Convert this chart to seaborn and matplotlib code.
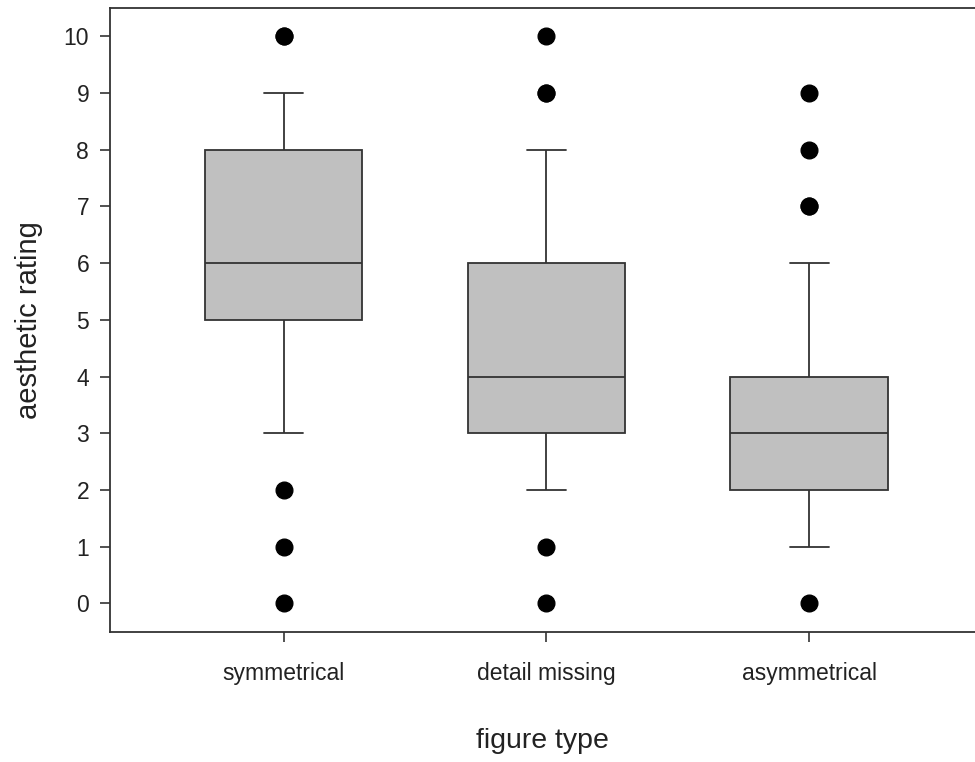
import numpy as np
import pandas as pd
import matplotlib
matplotlib.use("Agg")
import matplotlib.pyplot as plt
import seaborn as sns

# Datos: número de respuestas por puntuación (0..10) para cada tipo de figura
puntuaciones = list(range(11))
tipos = ["symmetrical", "detail missing", "asymmetrical"]
conteo_symmetrical = [1, 1, 1, 2, 2, 8, 8, 5, 6, 4, 2]
conteo_detail_missing = [1, 1, 3, 7, 9, 5, 6, 3, 2, 2, 1]
conteo_asymmetrical = [1, 4, 7, 10, 9, 2, 3, 2, 1, 1, 0]

filas = []
for tipo, conteo in zip(tipos, [conteo_symmetrical, conteo_detail_missing, conteo_asymmetrical]):
    for p, n in zip(puntuaciones, conteo):
        filas += [(tipo, p)] * n
df = pd.DataFrame(filas, columns=["figure type", "aesthetic rating"])

sns.set_style("ticks")
plt.rcParams["font.family"] = ["Liberation Sans", "DejaVu Sans"]

fig = plt.figure(figsize=(9.75, 7.62), dpi=100)
ax = fig.add_axes([0.1128, 0.171, 0.8872, 0.8185])

color_linea = "#333333"
sns.boxplot(data=df, x="figure type", y="aesthetic rating", order=tipos,
            whis=(10, 90), width=0.6, color="#c0c0c0", linecolor=color_linea,
            linewidth=1.3, saturation=1, capwidths=0.15,
            flierprops=dict(marker="o", markersize=12, markerfacecolor="black",
                            markeredgecolor="black"),
            ax=ax)

ax.set_xlim(-0.66, 2.63)
ax.set_ylim(-0.5, 10.5)
ax.set_yticks(range(0, 11))
ax.spines["right"].set_visible(False)
for s in ["left", "top", "bottom"]:
    ax.spines[s].set_linewidth(1.3)
    ax.spines[s].set_color(color_linea)
ax.tick_params(axis="both", length=7, width=1.2, color=color_linea,
               labelsize=16.5, labelcolor="#222222")
ax.tick_params(axis="x", pad=15)
ax.tick_params(axis="y", pad=8)
ax.set_xlabel("figure type", fontsize=20.5, color="#222222", labelpad=31)
ax.set_ylabel("aesthetic rating", fontsize=21, color="#222222", labelpad=15)

fig.savefig("out.png", dpi=100)
